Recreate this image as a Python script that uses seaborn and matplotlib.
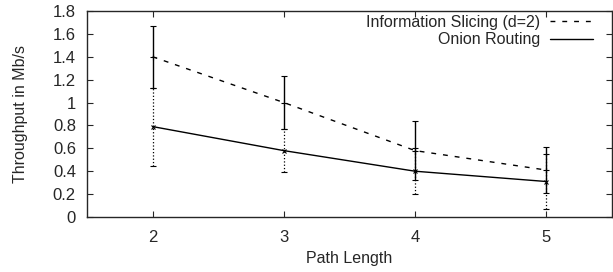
import pandas as pd
import matplotlib
matplotlib.use('Agg')
import matplotlib.pyplot as plt
import seaborn as sns

# values
path_length = [2, 3, 4, 5]
slicing_mean = [1.40, 1.00, 0.58, 0.41]
slicing_err = [0.27, 0.23, 0.26, 0.20]
onion_mean = [0.79, 0.58, 0.40, 0.31]
onion_err = [0.34, 0.19, 0.20, 0.24]
y_ticks = [0, 0.2, 0.4, 0.6, 0.8, 1, 1.2, 1.4, 1.6, 1.8]

sns.set_style('ticks')
plt.rcParams['font.family'] = ['Liberation Sans', 'DejaVu Sans']

df = pd.DataFrame({
    'Path Length': path_length * 2,
    'Throughput': slicing_mean + onion_mean,
    'Scheme': ['Information Slicing (d=2)'] * 4 + ['Onion Routing'] * 4,
})

fig = plt.figure(figsize=(6.13, 2.72), dpi=100)
ax = fig.add_axes([87 / 613, 1 - 217 / 272, 525 / 613, 206 / 272])

sns.lineplot(data=df, x='Path Length', y='Throughput', hue='Scheme', style='Scheme',
             palette=['black', 'black'], dashes=[(3.5, 5), ''], linewidth=1.0, ax=ax)

# error bars: solid for slicing, dotted for onion routing
eb = ax.errorbar(path_length, slicing_mean, yerr=slicing_err, fmt='+', color='black',
                 ms=4, mew=0.8, elinewidth=1.0, capsize=2, capthick=0.8)
eb2 = ax.errorbar(path_length, onion_mean, yerr=onion_err, fmt='x', color='black',
                  ms=3.5, mew=0.8, elinewidth=0.9, capsize=2, capthick=0.6)
eb2[2][0].set_linestyle(':')

ax.set_xlim(1.5, 5.5)
ax.set_ylim(0, 1.8)
ax.set_xticks(path_length)
ax.set_yticks(y_ticks)
ax.set_yticklabels(['0', '0.2', '0.4', '0.6', '0.8', '1', '1.2', '1.4', '1.6', '1.8'])
ax.tick_params(direction='in', length=4, width=0.8, top=True, right=True, labelsize=12)
ax.tick_params(axis='y', pad=8)
ax.tick_params(axis='x', pad=9)
for s in ax.spines.values():
    s.set_linewidth(1.0)
ax.set_xlabel('Path Length', fontsize=11.5, labelpad=5)
ax.set_ylabel('Throughput in Mb/s', fontsize=11.5, labelpad=18)

handles, labels = ax.get_legend_handles_labels()
ax.legend(handles[:2], labels[:2], loc='upper right', frameon=False, markerfirst=False,
          fontsize=11.5, handlelength=2.7, handletextpad=0.6, borderpad=0,
          borderaxespad=0, labelspacing=0.15,
          bbox_to_anchor=(593 / 613, 1 - 15 / 272), bbox_transform=fig.transFigure)

plt.savefig('out.png', dpi=100)
